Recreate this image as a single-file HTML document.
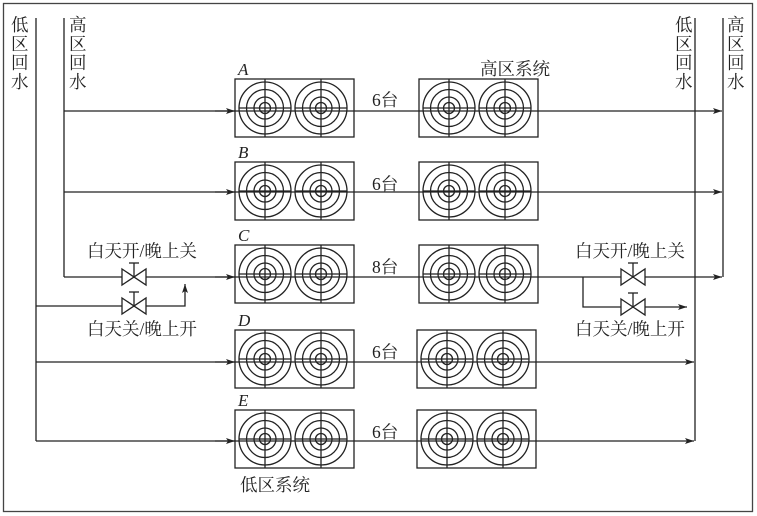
<!DOCTYPE html>
<html><head><meta charset="utf-8"><style>
html,body{margin:0;padding:0;background:#fff;}
svg{display:block;}
text{font-family:"Liberation Serif","Noto Serif CJK SC","Noto Sans CJK SC",serif;fill:#222;}
</style></head><body>
<svg width="757" height="516" viewBox="0 0 757 516" xmlns="http://www.w3.org/2000/svg">
<defs>
<g id="fan" fill="none" stroke="#222" stroke-width="1.3">
<circle r="26"/><circle r="18.5"/><circle r="11"/><circle r="5.5"/>
<line x1="-26" y1="0" x2="26" y2="0"/>
</g>
<g id="unit" fill="none" stroke="#222" stroke-width="1.3">
<rect x="0" y="0" width="119" height="58"/>
<use href="#fan" x="30" y="29"/><use href="#fan" x="86" y="29"/>
<line x1="30" y1="0" x2="30" y2="58"/><line x1="86" y1="0" x2="86" y2="58"/>
</g>
<g id="valve" fill="#fff" stroke="#222" stroke-width="1.3">
<polygon points="-12,-8 12,8 12,-8 -12,8"/>
<line x1="0" y1="0" x2="0" y2="-14"/><line x1="-5" y1="-14" x2="5" y2="-14"/>
</g>
<marker id="ar" markerWidth="10" markerHeight="8" refX="9" refY="4" orient="auto" markerUnits="userSpaceOnUse">
<path d="M0,1 L9,4 L0,7 L2,4 Z" fill="#222"/>
</marker>
</defs>
<rect x="3.5" y="3.5" width="749" height="508" fill="none" stroke="#444" stroke-width="1.3"/>
<g stroke="#222" stroke-width="1.3" fill="none">
<line x1="36" y1="18" x2="36" y2="441"/>
<line x1="64" y1="18" x2="64" y2="277"/>
<line x1="695" y1="18" x2="695" y2="441"/>
<line x1="723" y1="18" x2="723" y2="277"/>
<line x1="64" y1="111" x2="722" y2="111" marker-end="url(#ar)"/>
<line x1="64" y1="192" x2="722" y2="192" marker-end="url(#ar)"/>
<line x1="64" y1="277" x2="722" y2="277" marker-end="url(#ar)"/>
<line x1="36" y1="362" x2="694" y2="362" marker-end="url(#ar)"/>
<line x1="36" y1="441" x2="694" y2="441" marker-end="url(#ar)"/>
<line x1="215" y1="111" x2="235" y2="111" marker-end="url(#ar)"/>
<line x1="215" y1="192" x2="235" y2="192" marker-end="url(#ar)"/>
<line x1="215" y1="277" x2="235" y2="277" marker-end="url(#ar)"/>
<line x1="215" y1="362" x2="235" y2="362" marker-end="url(#ar)"/>
<line x1="215" y1="441" x2="235" y2="441" marker-end="url(#ar)"/>
<polyline points="36,306 185,306 185,284" marker-end="url(#ar)"/>
<polyline points="583,277 583,307 687,307" marker-end="url(#ar)"/>
</g>
<use href="#unit" x="235" y="79"/><use href="#unit" x="419" y="79"/>
<use href="#unit" x="235" y="162"/><use href="#unit" x="419" y="162"/>
<use href="#unit" x="235" y="245"/><use href="#unit" x="419" y="245"/>
<use href="#unit" x="235" y="330"/><use href="#unit" x="417" y="330"/>
<use href="#unit" x="235" y="410"/><use href="#unit" x="417" y="410"/>
<use href="#valve" x="134" y="277"/><use href="#valve" x="134" y="306"/>
<use href="#valve" x="633" y="277"/><use href="#valve" x="633" y="307"/>
<g font-size="17.5">
<text x="11" y="31">低</text><text x="11" y="50">区</text><text x="11" y="69">回</text><text x="11" y="88">水</text>
<text x="69" y="31">高</text><text x="69" y="50">区</text><text x="69" y="69">回</text><text x="69" y="88">水</text>
<text x="675" y="31">低</text><text x="675" y="50">区</text><text x="675" y="69">回</text><text x="675" y="88">水</text>
<text x="727" y="31">高</text><text x="727" y="50">区</text><text x="727" y="69">回</text><text x="727" y="88">水</text>
<text x="480" y="75">高区系统</text>
<text x="240" y="491">低区系统</text>
<text x="87" y="257">白天开/晚上关</text>
<text x="87" y="335">白天关/晚上开</text>
<text x="575" y="257">白天开/晚上关</text>
<text x="575" y="335">白天关/晚上开</text>
<text x="372" y="106">6台</text>
<text x="372" y="190">6台</text>
<text x="372" y="273">8台</text>
<text x="372" y="358">6台</text>
<text x="372" y="438">6台</text>
</g>
<g font-size="17" font-style="italic">
<text x="238" y="75">A</text><text x="238" y="158">B</text><text x="238" y="241">C</text>
<text x="238" y="326">D</text><text x="238" y="406">E</text>
</g>
</svg>
</body></html>
